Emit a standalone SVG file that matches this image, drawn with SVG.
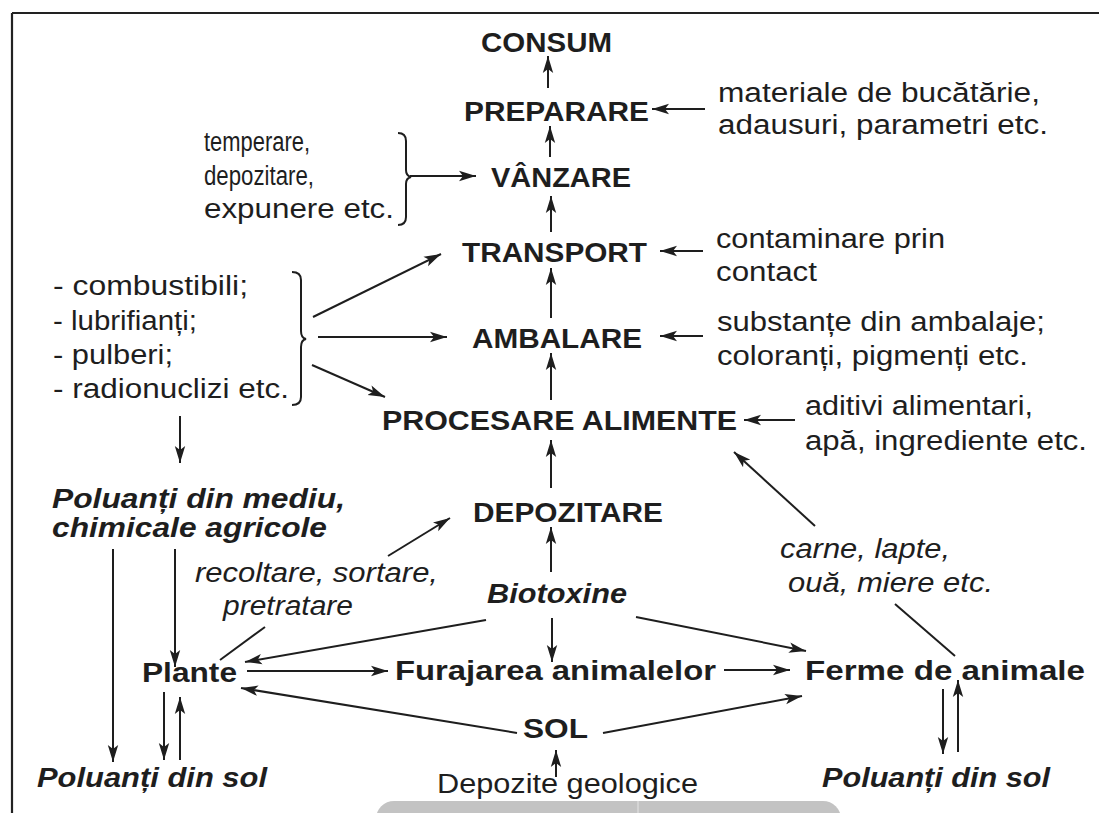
<svg xmlns="http://www.w3.org/2000/svg" width="1099" height="813" viewBox="0 0 1099 813">
<style>
text{font-family:"Liberation Sans",Arial,sans-serif;fill:#1e1e1e}
.b{font-weight:bold;font-size:27px}
.r{font-size:27px}
.i{font-style:italic;font-size:27px}
.bi{font-weight:bold;font-style:italic;font-size:27px}
.c line,.c path{stroke:#1e1e1e;stroke-width:2;fill:none}
.a{marker-end:url(#ah)}
</style>
<defs>
<marker id="ah" markerUnits="userSpaceOnUse" markerWidth="18" markerHeight="12" refX="17" refY="6" orient="auto">
<path d="M0,0.8 L17,6 L0,11.2 L4,6 z" fill="#1e1e1e"/>
</marker>
</defs>
<rect width="1099" height="813" fill="#fff"/>
<g id="frame" stroke="#222" stroke-width="2.2" fill="none">
<path d="M12,13 H1099 M12,13 V813"/>
</g>
<g id="overlay">
<rect x="376" y="801" width="465" height="40" rx="18" fill="#c3c3c3"/>
<line x1="638" y1="801" x2="638" y2="813" stroke="#d4d4d4" stroke-width="2"/>
</g>
<g class="c" id="connectors">
<line class="a" x1="548" y1="88" x2="548" y2="56"/>
<line class="a" x1="705" y1="109" x2="652" y2="109"/>
<line class="a" x1="550" y1="157" x2="550" y2="126"/>
<line class="a" x1="410" y1="176" x2="476" y2="176"/>
<line class="a" x1="551" y1="232" x2="551" y2="196"/>
<line class="a" x1="703" y1="251" x2="660" y2="251"/>
<line class="a" x1="551" y1="318" x2="551" y2="268"/>
<line class="a" x1="703" y1="336" x2="660" y2="336"/>
<line class="a" x1="551" y1="400" x2="551" y2="353"/>
<line class="a" x1="795" y1="420" x2="744" y2="420"/>
<line class="a" x1="313" y1="317" x2="441" y2="254"/>
<line class="a" x1="318" y1="337" x2="447" y2="337"/>
<line class="a" x1="312" y1="365" x2="385" y2="397"/>
<line class="a" x1="180" y1="416" x2="180" y2="463"/>
<line class="a" x1="551" y1="488" x2="551" y2="440"/>
<line class="a" x1="551" y1="572" x2="551" y2="527"/>
<line class="a" x1="388" y1="556" x2="450" y2="518"/>
<line x1="265" y1="627" x2="220" y2="660"/>
<line class="a" x1="486" y1="620" x2="245" y2="662"/>
<line class="a" x1="552" y1="618" x2="552" y2="662"/>
<line class="a" x1="636" y1="617" x2="806" y2="651"/>
<line class="a" x1="247" y1="671" x2="388" y2="671"/>
<line class="a" x1="724" y1="670" x2="790" y2="670"/>
<line class="a" x1="517" y1="733" x2="241" y2="688"/>
<line class="a" x1="603" y1="733" x2="802" y2="696"/>
<line class="a" x1="556" y1="777" x2="556" y2="750"/>
<line class="a" x1="113" y1="549" x2="113" y2="762"/>
<line class="a" x1="175" y1="549" x2="175" y2="667"/>
<line class="a" x1="164" y1="692" x2="164" y2="760"/>
<line class="a" x1="180" y1="760" x2="180" y2="697"/>
<line class="a" x1="943" y1="689" x2="943" y2="754"/>
<line class="a" x1="958" y1="752" x2="958" y2="680"/>
<line class="a" x1="815" y1="526" x2="734" y2="452"/>
<line x1="895" y1="604" x2="955" y2="656"/>
<path d="M398,133 Q406,133 406,141 L406,170 Q406,176 411,177 Q406,178 406,184 L406,217 Q406,225 398,225"/>
<path d="M292,272 Q301,272 301,280 L301,331 Q301,338 306,339 Q301,340 301,347 L301,397 Q301,405 292,405"/>
</g>
<g id="consum"><text class="b" x="481" y="52" font-size="24" textLength="131" lengthAdjust="spacingAndGlyphs">CONSUM</text></g>
<g id="preparare"><text class="b" x="464" y="121" textLength="185" lengthAdjust="spacingAndGlyphs">PREPARARE</text></g>
<g id="materiale"><text class="r" x="718" y="102" textLength="322" lengthAdjust="spacingAndGlyphs">materiale de bucătărie,</text><text class="r" x="718" y="134" textLength="330" lengthAdjust="spacingAndGlyphs">adausuri, parametri etc.</text></g>
<g id="vanzare"><text class="b" x="491" y="187" textLength="140" lengthAdjust="spacingAndGlyphs">VÂNZARE</text></g>
<g id="temperare"><text class="r" x="204" y="151" font-size="26" textLength="106" lengthAdjust="spacingAndGlyphs">temperare,</text><text class="r" x="204" y="185" font-size="26" textLength="110" lengthAdjust="spacingAndGlyphs">depozitare,</text><text class="r" x="204" y="218" textLength="190" lengthAdjust="spacingAndGlyphs">expunere etc.</text></g>
<g id="transport"><text class="b" x="462" y="262" textLength="185" lengthAdjust="spacingAndGlyphs">TRANSPORT</text></g>
<g id="contaminare"><text class="r" x="716" y="248" textLength="229" lengthAdjust="spacingAndGlyphs">contaminare prin</text><text class="r" x="716" y="281" textLength="101" lengthAdjust="spacingAndGlyphs">contact</text></g>
<g id="ambalare"><text class="b" x="472" y="348" textLength="170" lengthAdjust="spacingAndGlyphs">AMBALARE</text></g>
<g id="substante"><text class="r" x="717" y="331" textLength="328" lengthAdjust="spacingAndGlyphs">substanțe din ambalaje;</text><text class="r" x="717" y="365" textLength="311" lengthAdjust="spacingAndGlyphs">coloranți, pigmenți etc.</text></g>
<g id="procesare"><text class="b" x="382" y="430" textLength="355" lengthAdjust="spacingAndGlyphs">PROCESARE ALIMENTE</text></g>
<g id="aditivi"><text class="r" x="805" y="415" textLength="228" lengthAdjust="spacingAndGlyphs">aditivi alimentari,</text><text class="r" x="805" y="450" textLength="282" lengthAdjust="spacingAndGlyphs">apă, ingrediente etc.</text></g>
<g id="poluanti-lista"><text class="r" x="53" y="295" textLength="195" lengthAdjust="spacingAndGlyphs">- combustibili;</text><text class="r" x="53" y="330" textLength="144" lengthAdjust="spacingAndGlyphs">- lubrifianți;</text><text class="r" x="53" y="364" textLength="120" lengthAdjust="spacingAndGlyphs">- pulberi;</text><text class="r" x="53" y="398" textLength="236" lengthAdjust="spacingAndGlyphs">- radionuclizi etc.</text></g>
<g id="poluanti-mediu"><text class="bi" x="52" y="508" font-size="25" textLength="293" lengthAdjust="spacingAndGlyphs">Poluanți din mediu,</text><text class="bi" x="52" y="537" font-size="25" textLength="275" lengthAdjust="spacingAndGlyphs">chimicale agricole</text></g>
<g id="depozitare"><text class="b" x="473" y="522" textLength="190" lengthAdjust="spacingAndGlyphs">DEPOZITARE</text></g>
<g id="recoltare"><text class="i" x="195" y="582" textLength="243" lengthAdjust="spacingAndGlyphs">recoltare, sortare,</text><text class="i" x="223" y="615" textLength="130" lengthAdjust="spacingAndGlyphs">pretratare</text></g>
<g id="carne"><text class="i" x="780" y="558" textLength="170" lengthAdjust="spacingAndGlyphs">carne, lapte,</text><text class="i" x="788" y="592" textLength="205" lengthAdjust="spacingAndGlyphs">ouă, miere etc.</text></g>
<g id="biotoxine"><text class="bi" x="487" y="603" textLength="140" lengthAdjust="spacingAndGlyphs">Biotoxine</text></g>
<g id="plante"><text class="b" x="142" y="682" textLength="95" lengthAdjust="spacingAndGlyphs">Plante</text></g>
<g id="furajarea"><text class="b" x="395" y="680" textLength="321" lengthAdjust="spacingAndGlyphs">Furajarea animalelor</text></g>
<g id="ferme"><text class="b" x="805" y="680" textLength="280" lengthAdjust="spacingAndGlyphs">Ferme de animale</text></g>
<g id="sol"><text class="b" x="523" y="738" textLength="65" lengthAdjust="spacingAndGlyphs">SOL</text></g>
<g id="poluanti-sol-st"><text class="bi" x="37" y="787" textLength="230" lengthAdjust="spacingAndGlyphs">Poluanți din sol</text></g>
<g id="poluanti-sol-dr"><text class="bi" x="822" y="787" textLength="228" lengthAdjust="spacingAndGlyphs">Poluanți din sol</text></g>
<g id="depozite-geologice"><text class="r" x="437" y="793" textLength="261" lengthAdjust="spacingAndGlyphs">Depozite geologice</text></g>
</svg>
